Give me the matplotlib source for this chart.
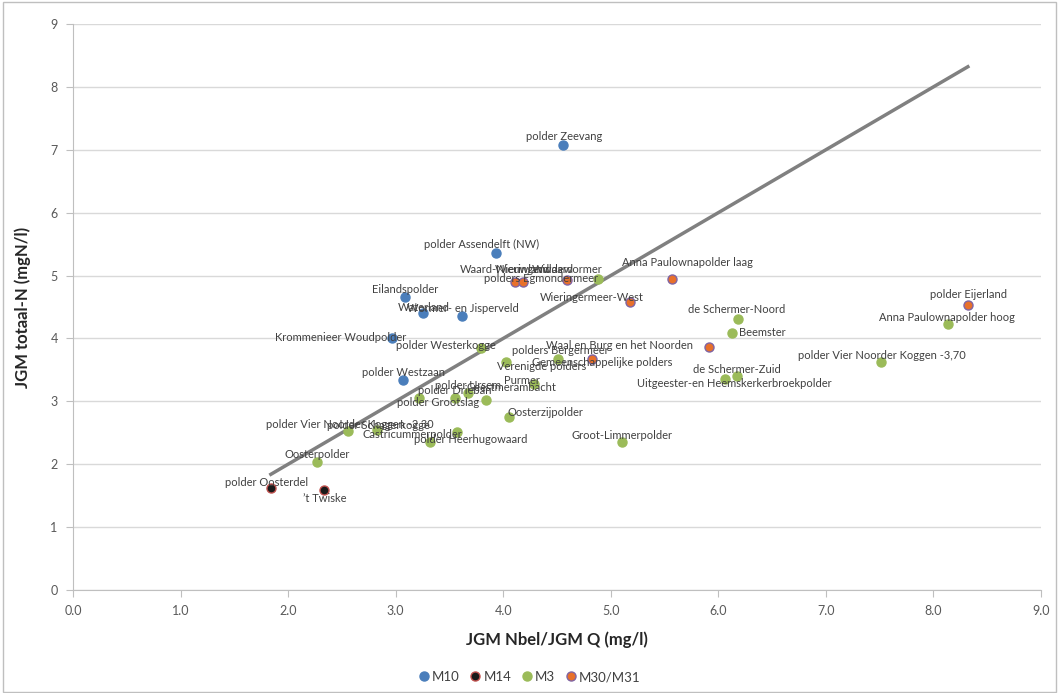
import matplotlib
matplotlib.use("Agg")
import matplotlib.pyplot as plt
from matplotlib.lines import Line2D
from matplotlib.patches import Rectangle

# series data (JGM Nbel/JGM Q vs JGM totaal-N)
m10_names = ["polder Zeevang", "polder Assendelft (NW)", "Eilandspolder", "Waterland",
             "Wormer- en Jisperveld", "Krommenieer Woudpolder", "polder Westzaan"]
m10_x = [4.56, 3.93, 3.09, 3.25, 3.62, 2.97, 3.07]
m10_y = [7.08, 5.36, 4.66, 4.40, 4.36, 4.01, 3.34]

m14_names = ["polder Oosterdel", "\u2019t Twiske"]
m14_x = [1.84, 2.33]
m14_y = [1.62, 1.59]

m3_names = ["Widdewormer", "polder Westerkogge", "Verenigde polders", "polders Bergermeer",
            "de Schermer-Noord", "Beemster", "de Schermer-Zuid",
            "Uitgeester-en Heemskerkerbroekpolder", "polder Vier Noorder Koggen -3,70",
            "Anna Paulownapolder hoog", "Groot-Limmerpolder", "Oosterzijpolder", "Purmer",
            "Geestmerambacht", "polder Ursem", "polder Drieban", "polder Grootslag",
            "polder Vier Noorder Koggen -2,30", "polder Schagerkogge", "Castricummerpolder",
            "polder Heerhugowaard", "Oosterpolder"]
m3_x = [4.88, 3.79, 4.03, 4.51, 6.18, 6.13, 6.17, 6.06, 7.51, 8.14, 5.10, 4.05, 4.29,
        3.84, 3.67, 3.55, 3.22, 2.56, 2.83, 3.57, 3.32, 2.27]
m3_y = [4.95, 3.85, 3.63, 3.67, 4.31, 4.09, 3.40, 3.36, 3.63, 4.23, 2.35, 2.75, 3.28,
        3.02, 3.13, 3.05, 3.05, 2.53, 2.54, 2.51, 2.35, 2.04]

m30_names = ["Waard-Nieuwland", "Wieringerwaard", "polders Egmondermeer", "Wieringermeer-West",
             "Anna Paulownapolder laag", "polder Eijerland", "Waal en Burg en het Noorden",
             "Gemeenschappelijke polders"]
m30_x = [4.11, 4.18, 4.59, 5.18, 5.57, 8.32, 5.91, 4.83]
m30_y = [4.90, 4.90, 4.93, 4.58, 4.95, 4.53, 3.86, 3.67]

# label offsets in pixels (dx right, dy down) relative to the marker
label_offsets = {
    "polder Zeevang": (1, -8), "polder Assendelft (NW)": (-14, -8), "Eilandspolder": (0, -7),
    "Waterland": (1, -6), "Wormer- en Jisperveld": (1, -7), "Krommenieer Woudpolder": (-52, 0),
    "polder Westzaan": (0, -7), "polder Oosterdel": (-4, -6), "\u2019t Twiske": (1, 8),
    "Widdewormer": (-31, -9), "polder Westerkogge": (-35, -2), "Verenigde polders": (35, 5),
    "polders Bergermeer": (2, -9), "de Schermer-Noord": (-1, -9), "Beemster": (30, 0),
    "de Schermer-Zuid": (0, -7), "Uitgeester-en Heemskerkerbroekpolder": (10, 5),
    "polder Vier Noorder Koggen -3,70": (1, -6), "Anna Paulownapolder hoog": (-2, -6),
    "Groot-Limmerpolder": (0, -7), "Oosterzijpolder": (37, -5), "Purmer": (-12, -3),
    "Geestmerambacht": (25, -13), "polder Ursem": (0, -8), "polder Drieban": (0, -8),
    "polder Grootslag": (19, 4), "polder Vier Noorder Koggen -2,30": (1, -6),
    "polder Schagerkogge": (1, -5), "Castricummerpolder": (-45, 2),
    "polder Heerhugowaard": (41, -3), "Oosterpolder": (0, -7),
    "Waard-Nieuwland": (-10, -12), "Wieringerwaard": (12, -12),
    "polders Egmondermeer": (-26, -1), "Wieringermeer-West": (-38, -4),
    "Anna Paulownapolder laag": (15, -16), "polder Eijerland": (1, -11),
    "Waal en Burg en het Noorden": (-89, -2), "Gemeenschappelijke polders": (10, 3),
}

series = [
    ("M10", m10_names, m10_x, m10_y, "#4a7ebb", "#4a7ebb"),
    ("M14", m14_names, m14_x, m14_y, "#1a1a1a", "#c0504d"),
    ("M3", m3_names, m3_x, m3_y, "#9bbb59", "#9bbb59"),
    ("M30/M31", m30_names, m30_x, m30_y, "#e8702a", "#8064a2"),
]

plt.rcParams["font.family"] = ["Lato", "DejaVu Sans"]

fig = plt.figure(figsize=(10.59, 6.93), dpi=100)
ax = fig.add_axes([0.0689, 0.1486, 0.9141, 0.8168])

# 1:1 line over the range of the data
all_x = m10_x + m14_x + m3_x + m30_x
ax.plot([min(all_x), max(all_x)], [min(all_x), max(all_x)], color="#808080", lw=2.5, zorder=2)

handles = []
for name, labels, xs, ys, face, edge in series:
    ax.plot(xs, ys, ls="none", marker="o", ms=6.5, mfc=face, mec=edge, mew=1.0, zorder=3)
    for lab, x, y in zip(labels, xs, ys):
        dx, dy = label_offsets[lab]
        ax.annotate(lab, (x, y), xytext=(dx * 0.72, -dy * 0.72), textcoords="offset points",
                    ha="center", va="center", fontsize=8, color="#404040", zorder=4)
    handles.append(Line2D([], [], ls="none", marker="o", ms=6.5, mfc=face, mec=edge,
                          mew=1.0, label=name))

ax.set_xlim(0, 9)
ax.set_ylim(0, 9)
ax.set_xticks(range(0, 10))
ax.set_xticklabels([f"{v:.1f}" for v in range(0, 10)])
ax.set_yticks(range(0, 10))
ax.grid(axis="y", color="#d9d9d9", lw=1)
ax.set_axisbelow(True)
for s in ["top", "right"]:
    ax.spines[s].set_visible(False)
for s in ["left", "bottom"]:
    ax.spines[s].set_color("#bfbfbf")
ax.tick_params(colors="#595959", labelsize=9, length=5, direction="out", pad=6)
ax.tick_params(axis="both", color="#bfbfbf")

ax.set_xlabel("JGM Nbel/JGM Q (mg/l)", fontsize=12, fontweight="bold", color="#262626", labelpad=10)
ax.set_ylabel("JGM totaal-N (mgN/l)", fontsize=12, fontweight="bold", color="#262626", labelpad=14)

fig.legend(handles=handles, loc="center", bbox_to_anchor=(0.5, 0.023), ncol=4, frameon=False,
           fontsize=9.5, handlelength=0.8, handletextpad=0.2, columnspacing=0.8,
           labelcolor="#404040")

fig.patches.append(Rectangle((0.003, 0.002), 0.994, 0.995, transform=fig.transFigure,
                             fill=False, edgecolor="#bfbfbf", lw=1))

fig.savefig("out.png", dpi=100)
